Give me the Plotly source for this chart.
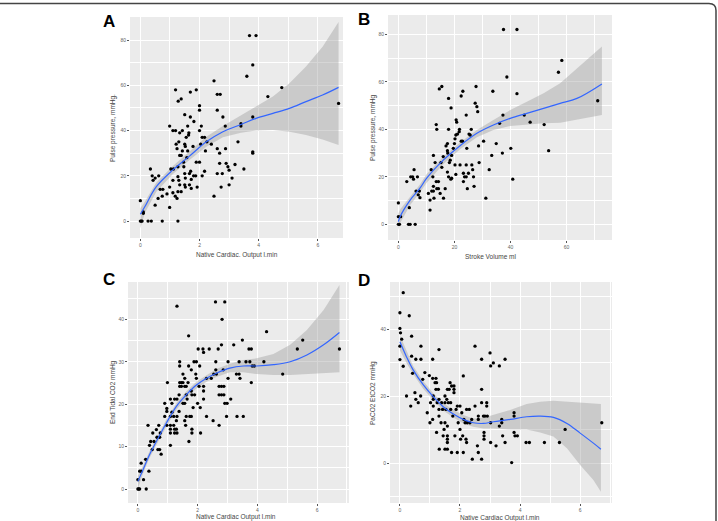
import plotly.graph_objects as go

W, H = 718, 521

# ---------------- Panel A: Native cardiac output vs pulse pressure ----------------
a_x = [0, 0, 0.03, 0.06, 0.1, 0.1, 0.26, 0.37, 0.34, 0.4, 0.43, 0.5, 0.5, 0.62, 0.6, 0.67, 0.76,
       0.74, 0.74, 0.9, 0.99, 0.99, 0.99, 1.03, 1.12, 1.1, 1.19, 1.1, 1.1, 1.18, 1.19, 1.24,
       1.21, 1.24, 1.27, 1.27, 1.3, 1.33, 1.28, 1.38, 1.33, 1.38, 1.3, 1.33, 1.27, 1.38, 1.27,
       1.42, 1.42, 1.46, 1.47, 1.5, 1.5, 1.52, 1.5, 1.52, 1.5, 1.52, 1.55, 1.57, 1.6, 1.6,
       1.63, 1.64, 1.66, 1.66, 1.69, 1.69, 1.7, 1.72, 1.72, 1.78, 1.81, 1.8, 1.87, 1.89, 1.89,
       2.0, 1.92, 2.0, 2.0, 2.0, 2.06, 2.04, 2.09, 2.17, 2.09, 2.17, 2.2, 2.25, 2.4, 2.49,
       2.49, 2.6, 2.7, 2.6, 2.6, 2.6, 2.77, 2.68, 2.68, 2.73, 2.79, 2.87, 2.88, 2.9, 2.96,
       3.0, 3.0, 3.1, 3.2, 3.3, 3.4, 3.4, 3.5, 3.6, 3.69, 3.91, 3.8, 3.8, 3.8, 3.8, 4.31,
       4.78, 6.7]
a_y = [9, 0, 0, 0, 3.4, 4, 0, 0, 23, 20, 18, 19, 7, 20, 10, 14, 14,
       0, 11, 12, 42, 15, 6, 23, 23, 40, 40, 18, 12.5, 11, 58, 10,
       34, 32, 19.6, 24, 35, 39, 53, 54, 29, 29, 18, 16, 13, 13, 0,
       40, 31, 26, 24, 47, 34, 33, 21, 19, 16, 15, 37, 28, 31, 42,
       38, 39, 21, 16, 57, 46, 22, 18.4, 14.4, 33, 44, 20, 20, 58, 26,
       26, 15, 51, 49, 40, 42, 34, 37, 37, 20, 22, 31, 35, 34, 62,
       11, 56, 56, 49, 32, 21, 21, 30, 25.5, 15, 46, 42, 32, 25.5, 24,
       16, 22.5, 19, 25, 35, 43, 42, 23, 64, 82, 82, 69, 46, 30.6, 30, 55,
       59, 52]
a_fit_x = [0, 0.15, 0.54, 1.1, 1.66, 2.23, 2.79, 3.4, 3.91, 4.48, 5.04, 5.6, 6.16, 6.7]
a_fit_y = [3, 6.3, 15.2, 22.6, 28.7, 35, 39.5, 42.7, 45.4, 47.6, 49.8, 52.8, 55.7, 59.1]
a_fit_hi = [5.6, 8.5, 17, 24.3, 30.7, 37.3, 42, 46.5, 50.6, 55, 60.9, 68.3, 77, 88]
a_fit_lo = [-3.2, 3.5, 13, 20.8, 27, 32.8, 37, 39, 40, 40.3, 39.5, 38, 36, 33.6]

# ---------------- Panel B: Stroke volume vs pulse pressure ----------------
b_x = [0, 0, 0, 0.4, 0.8, 3, 3.6, 4.2, 6, 3.9, 4.4, 5.1, 5.4, 5.6, 6.3, 6.8, 7.1, 7.5, 7.7,
       10.7, 11.3, 11.3, 11.7, 11.9, 12.5, 12.3, 12.5, 12.7, 12.5, 13.1, 13.5, 13.7, 13.5,
       14.3, 13.7, 14.3, 14.6, 15.5, 14.9, 15.2, 15.5, 16, 16.1, 16.7, 17.0, 17.5, 17.5,
       17.6, 17.9, 17.9, 17.5, 17.9, 18.5, 18.2, 18.8, 18.7, 19.0, 19.0, 19.6, 20, 20.2,
       20.5, 20.6, 20.8, 20.2, 20.5, 21.1, 21.7, 21.8, 22, 22.4, 23, 22.4, 22.9, 23.2,
       23.2, 23.6, 24.2, 24.2, 24.2, 24.4, 24.6, 25, 25.2, 25.6, 26, 26.2, 26.5, 26.8, 27,
       27.4, 27.7, 28, 28.3, 28.6, 28.8, 30.4, 31.2, 32.4, 33.3, 33.7, 34.9, 36.1, 37.3,
       37.1, 37.5, 38.7, 40.1, 40.8, 42.3, 42.3, 44.9, 47, 52, 53.6, 57.1, 58.3, 71.1]
b_y = [9, 3.2, 0, 0, 3.2, 18, 0, 0, 0, 7, 20, 20, 19, 23, 14, 20, 12.4, 14, 11.2,
       13, 10.2, 6, 23, 14, 14, 20, 16, 11, 29, 26, 42, 40, 18,
       18, 15, 15, 57, 58, 13, 26, 24, 28.5, 11, 15, 33, 34, 31,
       30, 53, 40, 22, 20, 27, 26, 49, 19, 29, 19.4, 32, 34, 36,
       37.6, 44, 43, 25, 21, 38, 39, 40, 25, 54, 56, 35, 35, 21.5,
       18, 20, 20, 46, 25, 32, 15, 21.5, 38, 37.6, 40, 25, 23, 20, 16,
       51, 58, 49.5, 47.4, 33, 26, 35, 11, 23, 29, 56, 34, 42.5, 46,
       30, 82, 62, 32, 19, 55, 82, 46, 43, 42, 31, 64, 69, 52]
b_fit_x = [0, 0.6, 4.2, 7.7, 10.1, 16.1, 22, 28, 33.9, 39.9, 45.8, 51.8, 57.7, 63.7, 72.6]
b_fit_y = [1.1, 3.2, 10.2, 15.2, 19.4, 27.1, 33.1, 38.3, 41.8, 44.6, 46.7, 48.8, 50.9, 53, 59.1]
b_fit_hi = [4.6, 6.2, 11.6, 16.8, 21.2, 28.5, 34.4, 39.7, 43.9, 48.1, 51.6, 55.2, 59.4, 65.7, 74.8]
b_fit_lo = [-2.4, 0.5, 8.1, 13.4, 17.5, 25.4, 31.6, 36.6, 39.7, 41.4, 42.1, 42.5, 42.8, 43.9, 46]

# ---------------- Panel C: Native cardiac output vs end tidal CO2 ----------------
c_x = [0, 0.03, 0.06, 0, 0.19, 0.06, 0.11, 0.11, 0.28, 0.26, 0.34, 0.37, 0.39, 0.43, 0.48,
       0.5, 0.54, 0.62, 0.64, 0.67, 0.7, 0.73, 0.73, 0.75, 0.78, 0.9, 0.9, 0.97, 0.97, 0.99,
       0.97, 1.09, 1.09, 1.09, 1.09, 1.09, 1.09, 1.14, 1.14, 1.2, 1.2, 1.23, 1.23, 1.23,
       1.29, 1.29, 1.31, 1.31, 1.31, 1.31, 1.38, 1.38, 1.4, 1.4, 1.4, 1.46, 1.51, 1.4, 1.46,
       1.51, 1.51, 1.57, 1.57, 1.57, 1.62, 1.57, 1.6, 1.62, 1.62, 1.65, 1.68, 1.7, 1.7, 1.71,
       1.74, 1.79, 1.79, 1.79, 1.81, 1.81, 1.81, 1.9, 1.85, 1.88, 1.94, 1.96, 1.96, 2.02,
       2.07, 2.0, 2.05, 2.09, 2.1, 2.18, 2.2, 2.2, 2.2, 2.2, 2.3, 2.3, 2.39, 2.46, 2.52,
       2.54, 2.6, 2.61, 2.61, 2.63, 2.69, 2.72, 2.72, 2.8, 2.88, 2.72, 2.8, 2.88, 2.8, 2.82,
       2.91, 2.86, 2.91, 2.99, 2.97, 3.02, 3.02, 3.11, 3.21, 3.32, 3.3, 3.39, 3.39, 3.42,
       3.5, 3.53, 3.62, 3.72, 3.8, 3.75, 3.8, 3.83, 3.9, 4.22, 4.31, 4.85, 5.34, 5.52, 6.75]
c_y = [0, 0, 0, 2.2, 2.2, 4.2, 4.2, 6.1, 0, 7, 15, 4.2, 10.3, 11.2, 9.3,
       13.2, 11.2, 14, 12.2, 9.3, 15, 12.2, 9.3, 13.2, 8.2, 20.2, 17.1, 18.3, 19, 25.1,
       15, 21.2, 17.1, 15, 14.1, 13.2, 10.3, 20.2, 18.1, 17.1, 15, 21.2, 14.1, 13.2,
       16.1, 14.1, 43.1, 17.1, 13.2, 21.2, 22.2, 18.3, 30, 29, 25.1, 25.1, 25.1, 24.2, 24.2,
       27.1, 20.2, 20.2, 26.1, 24.2, 24.2, 16.1, 15, 17.1, 22.2, 21.2, 25.1, 36.1, 29, 11.2,
       17.1, 17.1, 28.1, 23.1, 14.1, 13.2, 22.2, 22.2, 19.2, 30, 27.1, 30, 26.1, 33,
       29, 20.2, 24.2, 19.2, 13.2, 33, 32.2, 24.2, 23.1, 21.2, 26.1, 17.1, 33, 26.1, 16.1,
       27.1, 44.1, 30, 28.1, 27.1, 33, 15, 24.2, 24.2, 24.2, 22.2, 22.2, 22.2, 34, 40,
       44.1, 28.1, 20.2, 20.2, 17.1, 30, 26.1, 21.2, 34, 17.1, 27.1, 27.1, 30, 26.1,
       35.1, 17.1, 30, 33, 33, 30, 25.1, 29, 29, 30, 37.1, 27.1, 33, 35.1, 33]
c_fit_x = [0, 0.17, 0.39, 0.62, 0.95, 1.29, 1.62, 1.96, 2.3, 2.63, 3.08, 3.53, 3.98, 4.54, 5.1, 5.66, 6.22, 6.75]
c_fit_y = [1.8, 4.5, 8.1, 11.2, 15.5, 19.5, 22.2, 24.5, 26.1, 27.3, 28.5, 29, 29, 29.3, 30, 31.6, 34, 36.9]
c_fit_hi = [3.1, 5.4, 8.9, 12.0, 16.3, 20.3, 23.0, 25.3, 26.9, 28.3, 29.5, 30.4, 30.8, 31.8, 34, 37.5, 42.2, 48.1]
c_fit_lo = [0, 3.6, 7.3, 10.4, 14.7, 18.7, 21.4, 23.7, 25.3, 26.4, 27.5, 27.5, 27.1, 26.9, 26.9, 27.1, 27.3, 27.5]

# ---------------- Panel D: Native cardiac output vs PaCO2-EtCO2 gradient ----------------
d_x = [0, 0, 0.02, 0, 0, 0.06, 0.11, 0.11, 0.22, 0.31, 0.36, 0.39, 0.39, 0.42, 0.5, 0.53,
       0.53, 0.61, 0.7, 0.7, 0.69, 0.76, 0.83, 0.91, 0.98, 1.0, 1.02, 1.09, 1.09, 1.11, 1.11,
       1.11, 1.09, 1.17, 1.2, 1.22, 1.2, 1.28, 1.22, 1.24, 1.3, 1.3, 1.3, 1.3, 1.31, 1.37,
       1.39, 1.42, 1.44, 1.47, 1.5, 1.5, 1.53, 1.5, 1.5, 1.58, 1.56, 1.58, 1.58, 1.58, 1.58,
       1.58, 1.61, 1.64, 1.67, 1.69, 1.69, 1.72, 1.72, 1.76, 1.8, 1.8, 1.8, 1.83, 1.87, 1.91,
       1.91, 1.94, 2.0, 2.0, 2.02, 2.06, 2.09, 2.11, 2.11, 2.13, 2.17, 2.24, 2.2, 2.22, 2.22,
       2.31, 2.33, 2.39, 2.41, 2.5, 2.5, 2.58, 2.61, 2.61, 2.61, 2.72, 2.72, 2.72, 2.72, 2.78,
       2.83, 2.8, 2.8, 2.8, 2.89, 2.89, 2.91, 3.0, 3.02, 3.02, 3.02, 3.11, 3.2, 3.31, 3.31,
       3.39, 3.39, 3.42, 3.5, 3.5, 3.72, 3.8, 3.8, 3.8, 3.83, 3.91, 4.2, 4.31, 4.81, 5.31,
       5.5, 6.72]
d_y = [45, 40.3, 39, 35, 31, 37.1, 51, 29, 20.1, 44.1, 17.1, 38, 32, 26.9, 21.1, 31.1,
       19.1, 18.1, 35, 31.1, 20.1, 25.1, 27.1, 15.1, 26.2, 12.1, 18.1, 31.1, 25.4, 20.1, 19.1,
       17.1, 13.1, 24.1, 25.4, 24.1, 22.1, 22.1, 9.2, 18.1, 34, 19.1, 16.1, 14.1, 4.2, 12.1,
       18.1, 16.1, 8.2, 10.1, 20.1, 18.1, 16.1, 12.1, 4.2, 4.2, 19.1, 22.1, 11.1, 8.2, 7.2,
       6.2, 18.1, 22.1, 24.1, 18.1, 16.1, 3.2, 23.1, 14.1, 23.1, 22.1, 21.1, 8.2, 16.1, 3.2,
       17.1, 12.1, 17.1, 10.1, 7.2, 15.1, 8.2, 3.2, 26.1, 13.1, 12.1, 12.1, 7.2, 6.2, 16.1,
       16.1, 12.1, 13.1, 1.2, 35, 17.1, 5.2, 13.1, 3.2, 14.1, 31.1, 22.1, 18.1, 1.2, 14.1,
       14.1, 9.2, 8.2, 7.2, 18.1, 17.1, 14.1, 33, 29.1, 6.2, 12.1, 30, 5.2, 29.1, 11.1,
       13.1, 12.1, 8.2, 31.1, 6.2, 0.2, 15.1, 14.1, 9.2, 8.2, 8.2, 6.2, 6.2, 6.2, 6.2,
       10.1, 12.1]
d_fit_x = [0, 0.22, 0.44, 0.78, 1.11, 1.44, 1.78, 2.11, 2.44, 2.78, 3.11, 3.67, 4.22, 4.67, 5.11, 5.56, 6.0, 6.44, 6.69]
d_fit_y = [36.3, 31.8, 27.9, 23.4, 19.9, 16.9, 14.7, 13.1, 12.1, 11.9, 12.4, 13.1, 13.9, 14.1, 13.7, 11.9, 9.0, 6.0, 4.2]
d_fit_hi = [38.3, 33.5, 29.1, 24.5, 20.9, 18.0, 15.9, 14.4, 13.4, 13.6, 14.4, 15.9, 17.7, 18.4, 18.7, 18.4, 18.1, 17.9, 17.7]
d_fit_lo = [33.8, 30.0, 26.7, 22.2, 18.9, 15.8, 13.7, 11.9, 10.9, 10.4, 10.4, 10.1, 10.1, 9.2, 8.0, 4.5, -0.5, -5.0, -8.5]

# ---------------- axis texts ----------------
panel_letters = ["A", "B", "C", "D"]
x_titles = ["Native Cardiac. Output l.min", "Stroke Volume ml",
            "Native Cardiac Output l.min", "Native Cardiac Output l.min"]
y_titles = ["Pulse pressure, mmHg.", "Pulse pressure, mmHg",
            "End Tidal CO2 mmHg", "PaCO2 EtCO2 mmHg"]

panels = [
    dict(x=a_x, y=a_y, fx=a_fit_x, fy=a_fit_y, hi=a_fit_hi, lo=a_fit_lo,
         px=(130, 343), py=(17, 238), xr=[-0.35, 6.85], yr=[-7.5, 90.2],
         xd=2, yd=20, xm=1, ym=10),
    dict(x=b_x, y=b_y, fx=b_fit_x, fy=b_fit_y, hi=b_fit_hi, lo=b_fit_lo,
         px=(388, 612), py=(15, 240), xr=[-3.7, 76.2], yr=[-6.6, 88.1],
         xd=20, yd=20, xm=10, ym=10),
    dict(x=c_x, y=c_y, fx=c_fit_x, fy=c_fit_y, hi=c_fit_hi, lo=c_fit_lo,
         px=(128, 349), py=(282, 503), xr=[-0.33, 7.07], yr=[-3.3, 48.8],
         xd=2, yd=10, xm=1, ym=5),
    dict(x=d_x, y=d_y, fx=d_fit_x, fy=d_fit_y, hi=d_fit_hi, lo=d_fit_lo,
         px=(390, 612), py=(282, 503), xr=[-0.33, 7.06], yr=[-11.9, 54.2],
         xd=2, yd=20, xm=1, ym=10),
]
letter_pos = [(109, 21), (364, 20), (109, 279), (364, 280)]
xtitle_pos = [(237, 255), (490, 257), (236, 517), (500, 518)]
ytitle_pos = [(113, 128), (373, 128), (113, 392), (373, 393)]

fig = go.Figure()
layout = dict(width=W, height=H, margin=dict(l=0, r=0, t=0, b=0),
              paper_bgcolor="white", plot_bgcolor="#EBEBEB", showlegend=False,
              font=dict(family="Liberation Sans, Arial, sans-serif", color="#444"))

def px_x(v):
    return v / W

def px_y(v):
    return 1 - v / H

annotations = []
for i, p in enumerate(panels):
    n = "" if i == 0 else str(i + 1)
    xa, ya = "x" + n, "y" + n
    # ribbon
    fig.add_trace(go.Scatter(x=p["fx"] + p["fx"][::-1], y=p["hi"] + p["lo"][::-1],
                             fill="toself", fillcolor="rgba(153,153,153,0.4)",
                             line=dict(width=0), mode="lines", hoverinfo="skip",
                             xaxis=xa, yaxis=ya))
    # points
    fig.add_trace(go.Scatter(x=p["x"], y=p["y"], mode="markers",
                             marker=dict(color="black", size=3.3),
                             xaxis=xa, yaxis=ya))
    # smooth line
    fig.add_trace(go.Scatter(x=p["fx"], y=p["fy"], mode="lines",
                             line=dict(color="#3366FF", width=1.2, shape="spline"),
                             xaxis=xa, yaxis=ya))
    common = dict(showgrid=True, gridcolor="white", gridwidth=1, zeroline=False,
                  ticks="outside", ticklen=2, tickwidth=0.7, tickcolor="#555",
                  tickfont=dict(size=5, color="#666"), showline=False, tick0=0)
    layout["xaxis" + n] = dict(common, domain=[px_x(p["px"][0]), px_x(p["px"][1])],
                               range=p["xr"], dtick=p["xd"], anchor=ya,
                               minor=dict(showgrid=True, gridcolor="white", gridwidth=0.5,
                                          dtick=p["xm"], tick0=0))
    layout["yaxis" + n] = dict(common, domain=[px_y(p["py"][1]), px_y(p["py"][0])],
                               range=p["yr"], dtick=p["yd"], anchor=xa,
                               minor=dict(showgrid=True, gridcolor="white", gridwidth=0.5,
                                          dtick=p["ym"], tick0=0))
    lx, ly = letter_pos[i]
    annotations.append(dict(text="<b>%s</b>" % panel_letters[i], x=px_x(lx), y=px_y(ly),
                            xref="paper", yref="paper", showarrow=False,
                            xanchor="center", yanchor="middle",
                            font=dict(size=17, color="black",
                                      family="Liberation Sans, Arial, sans-serif")))
    tx, ty = xtitle_pos[i]
    annotations.append(dict(text=x_titles[i], x=px_x(tx), y=px_y(ty), xref="paper",
                            yref="paper", showarrow=False,
                            xanchor="center", yanchor="middle",
                            font=dict(size=6.5, color="#444")))
    yx, yy = ytitle_pos[i]
    annotations.append(dict(text=y_titles[i], x=px_x(yx), y=px_y(yy), xref="paper",
                            yref="paper", showarrow=False, textangle=-90,
                            xanchor="center", yanchor="middle",
                            font=dict(size=6.5, color="#444")))

layout["annotations"] = annotations
# rounded frame around the figure (top and right edges visible)
layout["shapes"] = [dict(type="path", xref="paper", yref="paper", layer="above",
                         path="M 0 %f L %f %f Q %f %f %f %f L %f 0" % (
                             px_y(3.5), px_x(709), px_y(3.5), px_x(716), px_y(3.5),
                             px_x(716), px_y(10.5), px_x(716)),
                         line=dict(color="#444", width=1.5))]
fig.update_layout(**layout)
fig.write_html("out.html", config={"displayModeBar": False},
               post_script="document.body.style.margin='0';document.body.style.overflow='hidden';")
